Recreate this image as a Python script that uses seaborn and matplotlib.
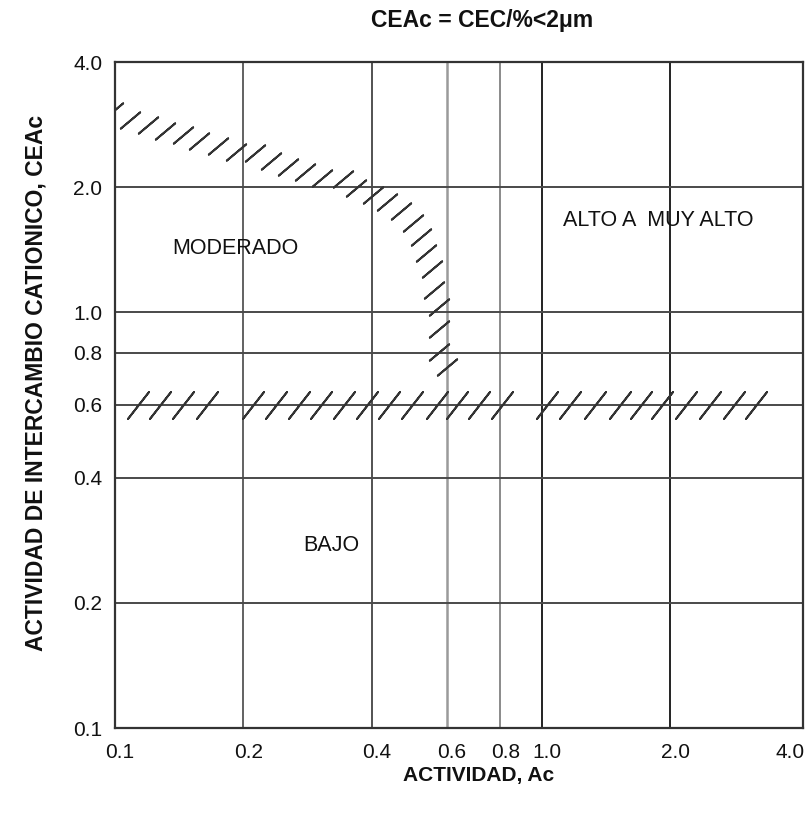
import numpy as np
import pandas as pd
import matplotlib
matplotlib.use("Agg")
import matplotlib.pyplot as plt
import matplotlib.transforms as mtransforms
import seaborn as sns

# ---- data -------------------------------------------------------------
tick_values = [0.1, 0.2, 0.4, 0.6, 0.8, 1.0, 2.0, 4.0]
tick_labels = ["0.1", "0.2", "0.4", "0.6", "0.8", "1.0", "2.0", "4.0"]
grid_x = [0.2, 0.4, 0.6, 0.8, 1.0, 2.0]
grid_y = [0.2, 0.4, 0.6, 0.8, 1.0, 2.0]

# hatch marks of the horizontal boundary (CEAc = 0.6)
row_x = [0.113, 0.1275, 0.1447, 0.1643,
         0.211, 0.238, 0.270, 0.304, 0.344, 0.389, 0.438, 0.496,
         0.568, 0.632, 0.712, 0.806,
         1.027, 1.163, 1.331, 1.523, 1.706, 1.920, 2.186, 2.487, 2.831, 3.188]
row_y = [0.6] * len(row_x)

# hatch marks of the curved boundary (moderado / alto)
curve_x = [0.099, 0.1084, 0.1193, 0.1311, 0.1443, 0.1576, 0.1747, 0.1920,
           0.2128, 0.2323, 0.2542, 0.2793, 0.3049, 0.3425, 0.3674, 0.4020,
           0.4347, 0.4683, 0.4988, 0.5202, 0.5358, 0.5546, 0.5600, 0.5745,
           0.5745, 0.5745, 0.6017]
curve_y = [3.05, 2.900, 2.816, 2.732, 2.665, 2.579, 2.514, 2.434,
           2.420, 2.308, 2.234, 2.172, 2.100, 2.092, 1.988, 1.918,
           1.839, 1.755, 1.644, 1.520, 1.386, 1.269, 1.131, 1.029,
           0.913, 0.801, 0.738]

zone_names = ["MODERADO", "ALTO A  MUY ALTO", "BAJO"]
zone_x = [0.192, 1.88, 0.322]
zone_y = [1.42, 1.66, 0.2755]

title = "CEAc = CEC/%<2\u03bcm"
xlabel = "ACTIVIDAD, Ac"
ylabel = "ACTIVIDAD DE INTERCAMBIO CATIONICO, CEAc"

# ---- figure -----------------------------------------------------------
sns.set_theme(style="white")
plt.rcParams["font.family"] = ["Liberation Sans", "DejaVu Sans"]

fig = plt.figure(figsize=(8.12, 8.15), dpi=100)
ax = fig.add_axes([115 / 812, 1 - 728 / 815, 688 / 812, 666 / 815])
ax.set_xscale("log")
ax.set_yscale("log")
ax.set_xlim(0.1, 4.1)
ax.set_ylim(0.1, 4.0)

xgrid_colors = {0.2: "#555555", 0.4: "#444444", 0.6: "#9a9a9a",
                0.8: "#8a8a8a", 1.0: "#222222", 2.0: "#222222"}
xgrid_lw = {0.2: 1.3, 0.4: 1.3, 0.6: 1.8, 0.8: 1.4, 1.0: 1.4, 2.0: 1.4}
for gx in grid_x:
    ax.axvline(gx, color=xgrid_colors[gx], lw=xgrid_lw[gx], zorder=1)
for gy in grid_y:
    ax.axhline(gy, color="#4a4a4a", lw=1.4, zorder=1)

df_row = pd.DataFrame({"x": row_x, "y": row_y})
df_curve = pd.DataFrame({"x": curve_x, "y": curve_y})
sns.scatterplot(data=df_row, x="x", y="y", ax=ax, marker=(2, 2, -38),
                s=600, color="#333333", linewidth=1.4, zorder=3)
sns.scatterplot(data=df_curve, x="x", y="y", ax=ax, marker=(2, 2, -50),
                s=330, color="#333333", linewidth=1.4, zorder=3)

for name, zx, zy in zip(zone_names, zone_x, zone_y):
    ax.text(zx, zy, name, ha="center", va="center", fontsize=15.5,
            color="#111111")

ax.set_xticks(tick_values)
ax.set_xticklabels(tick_labels)
ax.set_yticks(tick_values)
ax.set_yticklabels(tick_labels)
ax.minorticks_off()
ax.tick_params(axis="both", length=0, labelsize=15, colors="#111111")
ax.tick_params(axis="x", pad=11)
ax.tick_params(axis="y", pad=9)

# small horizontal offsets of the x tick labels as in the original drawing
xlabels = ax.get_xticklabels()
for i, lab in enumerate(xlabels):
    dx = -0.08 if i == len(xlabels) - 1 else 0.05
    lab.set_transform(lab.get_transform()
                      + mtransforms.ScaledTranslation(dx, 0, fig.dpi_scale_trans))

for sp in ax.spines.values():
    sp.set_color("#333333")
    sp.set_linewidth(1.6)
    sp.set_visible(True)

ax.set_xlabel(xlabel, fontsize=15, fontweight="bold", color="#111111")
ax.xaxis.set_label_coords(0.529, -0.0706)
ax.xaxis.label.set_va("center")
ax.set_ylabel(ylabel, fontsize=16.5, fontweight="bold", color="#111111")
ax.yaxis.set_label_coords(-0.1145, 0.518)
ax.yaxis.label.set_va("center")
ax.yaxis.label.set_ha("center")

fig.text(482 / 812, 1 - 20 / 815, title, ha="center", va="center",
         fontsize=16.5, fontweight="bold", color="#111111")

fig.savefig("out.png", dpi=100)
